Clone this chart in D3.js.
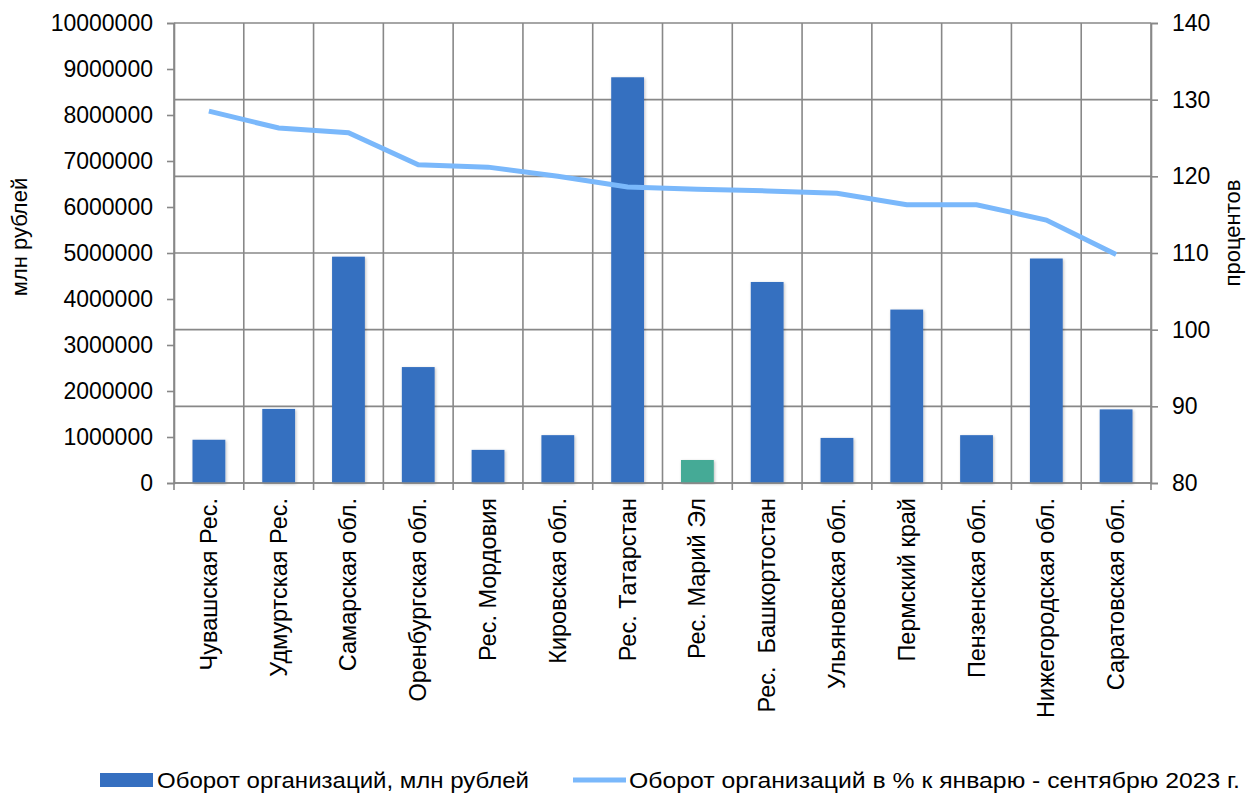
<html>
<head>
  <meta charset="utf-8">
  <style>
    body { margin: 0; background: #fff; }
    text { font-family: "Liberation Sans", Arial, sans-serif; fill: #000; }
  </style>
</head>
<body>
  <svg width="1250" height="794"></svg>
  <script src="https://d3js.org/d3.v7.min.js"></script>
  <script>
  var regions = ["Чувашская Рес.", "Удмуртская Рес.", "Самарская обл.", "Оренбургская обл.",
    "Рес. Мордовия", "Кировская обл.", "Рес. Татарстан", "Рес. Марий Эл",
    "Рес.  Башкортостан", "Ульяновская обл.", "Пермский край", "Пензенская обл.",
    "Нижегородская обл.", "Саратовская обл."];
  var turnover = [940000, 1610000, 4920000, 2520000, 720000, 1040000, 8820000, 500000,
    4370000, 980000, 3770000, 1040000, 4880000, 1600000];
  var percent = [128.5, 126.3, 125.7, 121.5, 121.2, 120.0, 118.6, 118.3,
    118.1, 117.8, 116.3, 116.3, 114.3, 109.8];
  var leftTicks = [0, 1000000, 2000000, 3000000, 4000000, 5000000, 6000000, 7000000, 8000000, 9000000, 10000000];
  var rightTicks = [80, 90, 100, 110, 120, 130, 140];
  var highlight = "Рес. Марий Эл";

  var svg = d3.select("svg"),
    plotLeft = 174, plotRight = 1151, plotTop = 23, plotBottom = 483;

  var X = d3.scaleBand().domain(regions).range([plotLeft, plotRight]).padding(0);
  var Y = d3.scaleLinear().domain([0, 10000000]).range([plotBottom, plotTop]);
  var Y2 = d3.scaleLinear().domain([80, 140]).range([plotBottom, plotTop]);

  var defs = svg.append("defs");
  defs.append("filter").attr("id", "shadow")
    .attr("x", "-20%").attr("y", "-5%").attr("width", "140%").attr("height", "110%")
    .append("feDropShadow")
    .attr("dx", 1).attr("dy", 1).attr("stdDeviation", 1.5)
    .attr("flood-color", "#000").attr("flood-opacity", 0.25);

  // grid
  var grid = svg.append("g").attr("stroke", "#888").attr("stroke-width", 1.6);
  grid.selectAll("line.h").data(rightTicks).enter().append("line")
    .attr("x1", plotLeft).attr("x2", plotRight)
    .attr("y1", function(d) { return Y2(d); })
    .attr("y2", function(d) { return Y2(d); });
  var bounds = regions.map(function(d) { return X(d); }).concat([plotRight]);
  grid.selectAll("line.v").data(bounds).enter().append("line")
    .attr("x1", function(d) { return d; }).attr("x2", function(d) { return d; })
    .attr("y1", plotTop).attr("y2", plotBottom + 7);

  // axes
  var yAxis = svg.append("g").attr("transform", "translate(" + plotLeft + ",0)")
    .call(d3.axisLeft(Y).tickValues(leftTicks).tickSize(7).tickPadding(14).tickFormat(d3.format("d")));
  var y2Axis = svg.append("g").attr("transform", "translate(" + plotRight + ",0)")
    .call(d3.axisRight(Y2).tickValues(rightTicks).tickSize(7).tickPadding(14));
  [yAxis, y2Axis].forEach(function(a) {
    a.select(".domain").attr("stroke", "#888").attr("stroke-width", 1.6);
    a.selectAll(".tick line").attr("stroke", "#888").attr("stroke-width", 1.6);
    a.selectAll(".tick text").style("font-size", "23px").attr("fill", "#000")
      .attr("font-family", "Liberation Sans, Arial, sans-serif");
  });

  // bars
  var bw = X.bandwidth();
  svg.append("g").selectAll("rect").data(regions).enter().append("rect")
    .attr("x", function(d) { return X(d) + bw * 0.265; })
    .attr("width", bw * 0.47)
    .attr("y", function(d, i) { return Y(turnover[i]); })
    .attr("height", function(d, i) { return plotBottom - Y(turnover[i]); })
    .attr("fill", function(d) { return d === highlight ? "#45aa96" : "#356fc0"; })
    .attr("filter", "url(#shadow)");

  svg.append("line").attr("x1", plotLeft).attr("x2", plotRight).attr("y1", plotBottom).attr("y2", plotBottom)
    .attr("stroke", "#888").attr("stroke-width", 1.6);

  // line
  var line = d3.line()
    .x(function(d, i) { return X(regions[i]) + bw / 2; })
    .y(function(d) { return Y2(d); });
  svg.append("path").datum(percent)
    .attr("d", line)
    .attr("fill", "none")
    .attr("stroke", "#7ab8fb")
    .attr("stroke-width", 5);

  // category labels
  svg.append("g").selectAll("text").data(regions).enter().append("text")
    .attr("transform", function(d) { return "translate(" + (X(d) + bw / 2 + 8) + "," + (plotBottom + 15) + ") rotate(-90)"; })
    .attr("text-anchor", "end")
    .style("font-size", "23.5px")
    .style("white-space", "pre")
    .text(function(d) { return d; });

  // axis titles
  svg.append("text")
    .attr("transform", "translate(27,237) rotate(-90)")
    .attr("text-anchor", "middle")
    .style("font-size", "22px")
    .text("млн рублей");
  svg.append("text")
    .attr("transform", "translate(1240,233) rotate(-90)")
    .attr("text-anchor", "middle")
    .style("font-size", "22px")
    .text("процентов");

  // legend
  var lg = svg.append("g");
  lg.append("rect").attr("x", 100).attr("y", 773).attr("width", 53).attr("height", 14).attr("fill", "#356fc0");
  lg.append("text").attr("x", 157).attr("y", 788).style("font-size", "22px")
    .attr("textLength", 372).attr("lengthAdjust", "spacingAndGlyphs")
    .text("Оборот организаций, млн рублей");
  lg.append("line").attr("x1", 573).attr("x2", 626).attr("y1", 780).attr("y2", 780)
    .attr("stroke", "#7ab8fb").attr("stroke-width", 5);
  lg.append("text").attr("x", 629).attr("y", 788).style("font-size", "22px")
    .attr("textLength", 611).attr("lengthAdjust", "spacingAndGlyphs")
    .text("Оборот организаций в % к январю - сентябрю 2023 г.");
  </script>
</body>
</html>
